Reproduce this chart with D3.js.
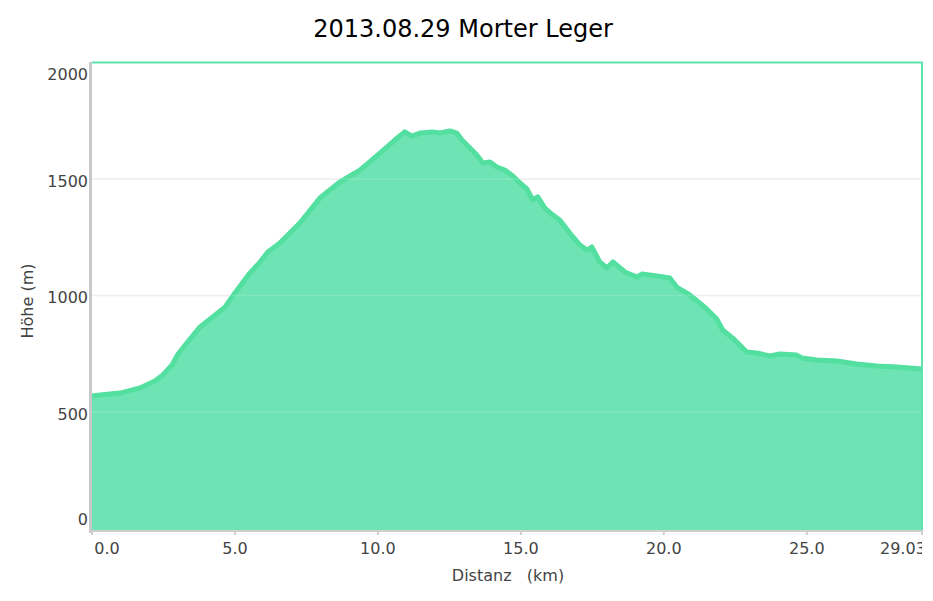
<!DOCTYPE html>
<html><head><meta charset="utf-8">
<script src="https://cdn.jsdelivr.net/npm/d3@7"></script>
<style>body{margin:0;background:#fff;} svg{display:block;font-family:"DejaVu Sans",Verdana,sans-serif;}</style>
</head><body>
<script>
const titleText = "2013.08.29 Morter Leger";
const xTitle = "Distanz   (km)";
const yTitle = "Höhe (m)";
const distanceKm = [0.00,0.28,0.98,1.68,2.20,2.48,2.80,3.01,3.43,3.78,4.13,4.65,5.00,5.52,5.87,6.15,6.57,7.27,7.97,8.67,9.37,10.07,10.59,10.94,11.19,11.47,11.92,12.17,12.52,12.76,12.94,13.22,13.46,13.67,13.92,14.16,14.44,14.72,14.97,15.21,15.42,15.59,15.84,16.12,16.36,16.71,17.06,17.31,17.48,17.76,18.01,18.22,18.64,19.06,19.23,19.76,20.21,20.45,20.91,21.43,21.85,22.06,22.41,22.90,23.25,23.71,24.06,24.65,24.83,25.35,26.05,26.75,27.45,28.15,29.03];
const elevationM = [566,571,579,601,631,657,700,747,811,863,897,948,1009,1094,1140,1185,1223,1309,1416,1485,1536,1609,1665,1700,1682,1695,1700,1695,1704,1695,1665,1631,1601,1567,1571,1549,1536,1511,1481,1455,1408,1421,1373,1343,1322,1266,1215,1193,1206,1142,1116,1142,1099,1077,1090,1082,1073,1034,1000,948,897,850,815,755,751,738,747,742,730,721,717,704,695,691,682];
const xTickValues = [0,5,10,15,20,25,29.03];
const xTickLabels = ["0.0","5.0","10.0","15.0","20.0","25.0","29.03"];
const yTickValues = [0,500,1000,1500,2000];
const yGridValues = [500,1000,1500];

const W=933,H=601;
const L=92,R=922,T=62,B=528;
const x=d3.scaleLinear().domain([0,29.03]).range([L,R]);
const y=d3.scaleLinear().domain([0,2000]).range([B,T]);
const data=distanceKm.map((d,i)=>({d,e:elevationM[i]}));

const svg=d3.select("body").append("svg").attr("width",W).attr("height",H);
svg.append("defs").append("clipPath").attr("id","plot").append("rect")
  .attr("x",L).attr("y",T).attr("width",R-L).attr("height",B-T+2);
svg.append("defs").append("clipPath").attr("id","lbl").append("rect")
  .attr("x",0).attr("y",0).attr("width",R).attr("height",H);

// title
svg.append("text").attr("x",463).attr("y",37).attr("text-anchor","middle")
  .attr("font-size",24).attr("fill","#000").text(titleText);

const g=svg.append("g").attr("clip-path","url(#plot)");
// gridlines (under)
g.selectAll("line.grid").data(yGridValues).enter().append("line")
  .attr("x1",L).attr("x2",R).attr("y1",d=>y(d)+0.5).attr("y2",d=>y(d)+0.5)
  .attr("stroke","#ebebeb").attr("stroke-width",1.5);
g.append("path").datum(data)
  .attr("d",d3.area().x(d=>x(d.d)).y0(B+2).y1(d=>y(d.e)))
  .attr("fill","#6ee3b3");
g.append("path").datum(data)
  .attr("d",d3.line().x(d=>x(d.d)).y(d=>y(d.e)))
  .attr("fill","none").attr("stroke","#52df9f").attr("stroke-width",5).attr("stroke-linejoin","round");
// faint gridline overlay
g.selectAll("line.grido").data(yGridValues).enter().append("line")
  .attr("x1",L).attr("x2",R).attr("y1",d=>y(d)+0.5).attr("y2",d=>y(d)+0.5)
  .attr("stroke","#ffffff").attr("stroke-opacity",0.15).attr("stroke-width",1.5);

// top and right border
svg.append("line").attr("x1",L).attr("x2",R+1).attr("y1",T+0.5).attr("y2",T+0.5)
  .attr("stroke","#5fe3ae").attr("stroke-width",2);
svg.append("line").attr("x1",R).attr("x2",R).attr("y1",T).attr("y2",B+2)
  .attr("stroke","#5fe3ae").attr("stroke-width",2);

// axes lines
svg.append("line").attr("x1",L-1).attr("x2",R+1).attr("y1",B+3).attr("y2",B+3)
  .attr("stroke","#cfcfcf").attr("stroke-width",2);
svg.append("line").attr("x1",L-1.5).attr("x2",L-1.5).attr("y1",T).attr("y2",B+5)
  .attr("stroke","#c8c8c8").attr("stroke-width",3);

// x ticks
svg.selectAll("line.xt").data(xTickValues).enter().append("line")
  .attr("x1",d=>x(d)).attr("x2",d=>x(d)).attr("y1",B+3).attr("y2",B+7)
  .attr("stroke","#cfcfcf").attr("stroke-width",2);
const xl=svg.append("g").attr("clip-path","url(#lbl)");
xl.selectAll("text").data(xTickValues).enter().append("text")
  .attr("x",(d,i)=> i===0 ? x(d)+15 : (i===xTickValues.length-1 ? x(d)-42 : x(d)))
  .attr("y",554).attr("font-size",16).attr("fill","#444")
  .attr("text-anchor",(d,i)=> i===xTickValues.length-1 ? "start":"middle")
  .text((d,i)=>xTickLabels[i]);

// y tick labels
svg.selectAll("text.yl").data(yTickValues).enter().append("text")
  .attr("x",88).attr("y",d=> d===2000 ? y(d)+18 : (d===0 ? y(d)-3 : y(d)+8))
  .attr("text-anchor","end").attr("font-size",16).attr("fill","#444").text(d=>d);

// axis titles
svg.append("text").attr("x",508).attr("y",581).attr("text-anchor","middle")
  .attr("font-size",16).attr("fill","#444").style("white-space","pre").text(xTitle);
svg.append("text").attr("transform","translate(33,301) rotate(-90)").attr("text-anchor","middle")
  .attr("font-size",16).attr("fill","#444").text(yTitle);
</script>
</body></html>
